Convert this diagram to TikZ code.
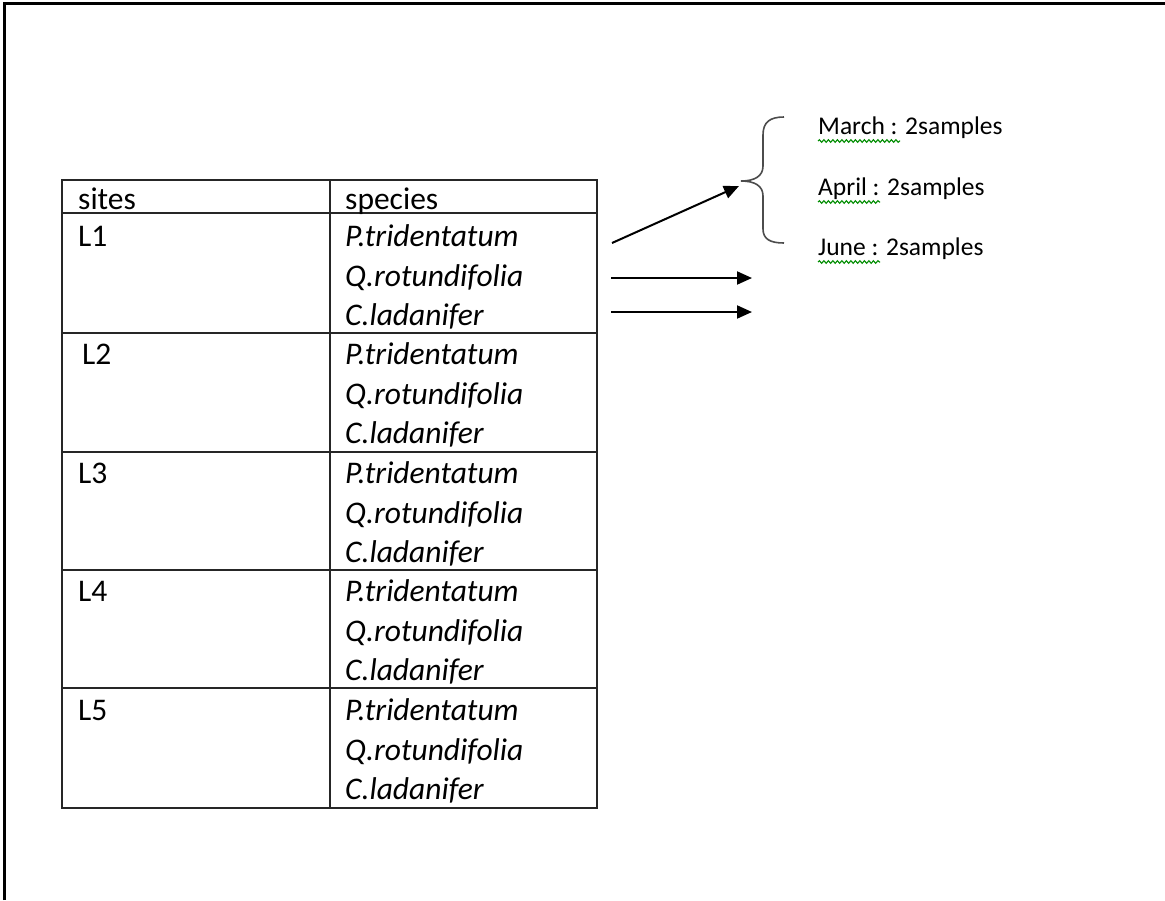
\documentclass[tikz,border=0pt]{standalone}
\usepackage{fontspec}
\setmainfont{Carlito}
\usetikzlibrary{arrows.meta,decorations.pathmorphing}
\tikzset{
  tabline/.style={line width=2.2pt, draw=black!85},
  cell/.style={anchor=base west, inner sep=0pt, font=\fontsize{31.5}{36}\selectfont},
  spec/.style={cell, font=\fontsize{31.5}{36}\selectfont\itshape},
  month/.style={anchor=base west, inner sep=0pt, font=\fontsize{25.5}{30}\selectfont},
  arr/.style={line width=2pt, -{Triangle[length=15pt,width=13pt]}},
  spell/.style={draw=green!55!black, line width=1.1pt, decorate, decoration={snake, amplitude=1.3pt, segment length=4.5pt}},
  bracestyle/.style={draw=black!70, line width=1.6pt}
}
\begin{document}
\begin{tikzpicture}[x=1pt,y=-1pt]
\useasboundingbox (0,0) rectangle (1165,900);
% frame (top and left)
\draw[line width=3pt] (4,900) -- (4,3) -- (1165,3);
% table
\draw[tabline] (62,180) rectangle (597,808);
\draw[tabline] (330,180) -- (330,808);
\foreach \y in {213,333,452,570,688} \draw[tabline] (62,\y) -- (597,\y);
% header
\node[cell] (hsites) at (78,209) {sites};
\node[cell] (hspecies) at (345,209) {species};
% rows
\foreach \i/\lab/\xo in {0/L1/78,1/ L2/82,2/L3/78,3/L4/78,4/L5/78}{
  \pgfmathsetmacro{\b}{246+118.6*\i}
  \node[cell] (site\i) at (\xo,\b) {\lab};
  \node[spec] (p\i) at (345,\b) {P.tridentatum};
  \node[spec] (q\i) at (345,\b+40) {Q.rotundifolia};
  \node[spec] (c\i) at (345,\b+79) {C.ladanifer};
}
% months
\node[month] (march) at (818,134) {March : 2samples};
\node[month] (april) at (818,195) {April : 2samples};
\node[month] (june) at (818,255) {June : 2samples};
\draw[spell] (818,141) -- (900,141);
\draw[spell] (818,202) -- (880,202);
\draw[spell] (818,262) -- (880,262);
% brace
\coordinate (btip) at (741,181);
\draw[bracestyle] (784,117) .. controls (770,117) and (763,122) .. (763,135)
  -- (763,166) .. controls (763,176) and (755,181) .. (btip)
  .. controls (755,181) and (763,186) .. (763,196)
  -- (763,229) .. controls (763,239) and (770,243) .. (784,243);
% arrows
\coordinate (a0s) at (612,243);
\coordinate (a0e) at (739,186);
\coordinate (a1s) at (611,278);
\coordinate (a1e) at (752,278);
\coordinate (a2s) at (611,312);
\coordinate (a2e) at (752,312);
\draw[arr] (a0s) -- (a0e);
\draw[arr] (a1s) -- (a1e);
\draw[arr] (a2s) -- (a2e);
\end{tikzpicture}
\end{document}
